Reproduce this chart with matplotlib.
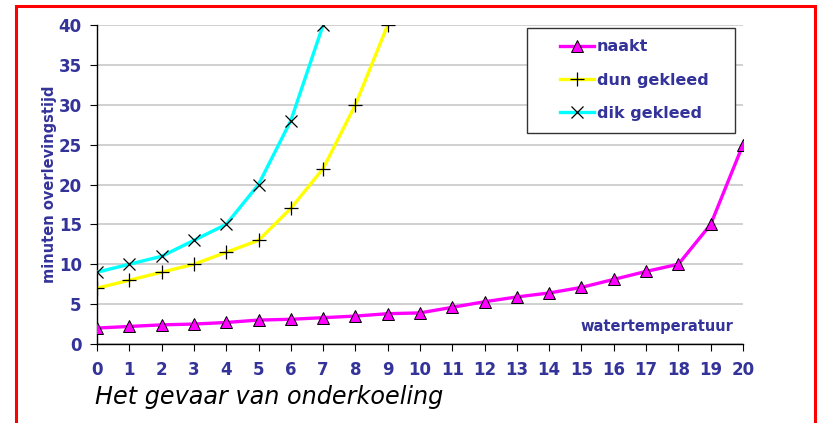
import matplotlib.pyplot as plt
from matplotlib.patches import Rectangle

# watertemperatuur (graden C)
temp_naakt = list(range(0, 21))
naakt = [2.0, 2.2, 2.4, 2.5, 2.7, 3.0, 3.1, 3.3, 3.5, 3.8, 3.9,
         4.6, 5.3, 5.9, 6.4, 7.1, 8.1, 9.1, 10.0, 15.0, 25.0]

temp_dun = list(range(0, 10))
dun = [7, 8, 9, 10, 11.5, 13, 17, 22, 30, 40]

temp_dik = list(range(0, 8))
dik = [9, 10, 11, 13, 15, 20, 28, 40]

xticks = list(range(0, 21))
yticks = [0, 5, 10, 15, 20, 25, 30, 35, 40]

navy = '#333399'

fig = plt.figure(figsize=(8.28, 4.23), dpi=100)
ax = fig.add_axes([97 / 828, 1 - 344 / 423, (743 - 97) / 828, (344 - 25) / 423])

ax.plot(temp_naakt, naakt, color='#ff00ff', lw=2.4, marker='^', ms=8.5,
        mfc='#ff00ff', mec='black', mew=0.7, label='naakt', zorder=3)
ax.plot(temp_dun, dun, color='#ffff00', lw=2.4, marker='+', ms=10,
        mec='black', mew=0.9, label='dun gekleed', zorder=3)
ax.plot(temp_dik, dik, color='#00ffff', lw=2.4, marker='x', ms=9,
        mec='black', mew=0.9, label='dik gekleed', zorder=3)

ax.set_xlim(0, 20)
ax.set_ylim(0, 40)
ax.set_xticks(xticks)
ax.set_yticks(yticks)
ax.grid(axis='y', color='#c8c8c8', lw=1.2)
ax.set_axisbelow(True)
for s in ['top', 'right']:
    ax.spines[s].set_visible(False)
ax.spines['left'].set_linewidth(1.0)
ax.spines['bottom'].set_linewidth(1.0)
ax.tick_params(axis='x', length=5, pad=7, labelsize=12, labelcolor=navy)
ax.tick_params(axis='y', length=5, pad=6, labelsize=12, labelcolor=navy)
for lbl in ax.get_xticklabels() + ax.get_yticklabels():
    lbl.set_fontweight('bold')

ax.set_ylabel('minuten overlevingstijd', fontsize=10.5, fontweight='bold',
              color=navy)
ax.yaxis.set_label_coords(-40 / 646, 0.5)
ax.text(0.985, 0.055, 'watertemperatuur', transform=ax.transAxes,
        ha='right', va='center', fontsize=10.5, fontweight='bold', color=navy)

# legend box drawn separately, entries placed inside it
ax.add_patch(Rectangle((527 / 828, 1 - 133 / 423), (735 - 527) / 828, 105 / 423,
                       transform=fig.transFigure, facecolor='white',
                       edgecolor='#333333', lw=1.0, zorder=5, clip_on=False))
leg = ax.legend(loc='center left', bbox_to_anchor=(560 / 828, 1 - 80 / 423),
                bbox_transform=fig.transFigure, frameon=False,
                prop={'weight': 'bold', 'size': 11.5},
                handlelength=2.1, handletextpad=0.2, labelspacing=1.15,
                borderpad=0, borderaxespad=0)
leg.set_zorder(6)
for t in leg.get_texts():
    t.set_color(navy)

fig.text(95 / 828, 1 - 397 / 423, 'Het gevaar van onderkoeling', fontsize=17.2,
         style='italic', color='black', ha='left', va='center')

fig.patches.append(Rectangle((16 / 828, -0.1), (815 - 16) / 828, 1.1 - 6 / 423,
                             transform=fig.transFigure, fill=False,
                             edgecolor='#ff0000', lw=2.2, clip_on=False))

fig.savefig('out.png', dpi=100)
